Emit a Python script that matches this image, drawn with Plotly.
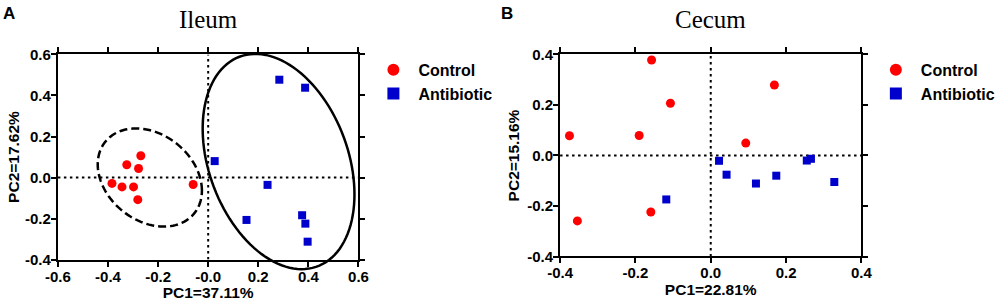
import numpy as np
import plotly.graph_objects as go

# ---------------- data ----------------
groups = ["Control", "Antibiotic"]

ileum_control_pc1 = [-0.384, -0.344, -0.298, -0.325, -0.269, -0.278, -0.281, -0.060]
ileum_control_pc2 = [-0.029, -0.046, -0.046, 0.062, 0.106, 0.044, -0.108, -0.034]
ileum_antibiotic_pc1 = [0.026, 0.284, 0.387, 0.237, 0.153, 0.375, 0.388, 0.397]
ileum_antibiotic_pc2 = [0.080, 0.477, 0.438, -0.036, -0.207, -0.184, -0.225, -0.313]

cecum_control_pc1 = [-0.375, -0.354, -0.190, -0.157, -0.107, -0.159, 0.093, 0.169]
cecum_control_pc2 = [0.078, -0.259, 0.079, 0.378, 0.207, -0.224, 0.049, 0.279]
cecum_antibiotic_pc1 = [-0.118, 0.022, 0.042, 0.120, 0.174, 0.255, 0.266, 0.328]
cecum_antibiotic_pc2 = [-0.174, -0.021, -0.076, -0.111, -0.080, -0.020, -0.013, -0.105]

# ellipse parameters (data units): centre x, centre y, half-width, half-height, tilt phase
ileum_ellipse_control = [-0.233, 0.0, 0.208, 0.2395, -0.27]
ileum_ellipse_antibiotic = [0.281, 0.078, 0.303, 0.525, -0.31]

ileum_x_ticks = [-0.6, -0.4, -0.2, 0.0, 0.2, 0.4, 0.6]
ileum_x_labels = ["-0.6", "-0.4", "-0.2", "-0.0", "0.2", "0.4", "0.6"]
ileum_y_ticks = [-0.4, -0.2, 0.0, 0.2, 0.4, 0.6]
ileum_y_labels = ["-0.4", "-0.2", "0.0", "0.2", "0.4", "0.6"]
cecum_x_ticks = [-0.4, -0.2, 0.0, 0.2, 0.4]
cecum_x_labels = ["-0.4", "-0.2", "0.0", "0.2", "0.4"]
cecum_y_ticks = [-0.4, -0.2, 0.0, 0.2, 0.4]
cecum_y_labels = ["-0.4", "-0.2", "0.0", "0.2", "0.4"]

ileum_x_range = [-0.6, 0.6]
ileum_y_range = [-0.4, 0.6]
cecum_x_range = [-0.4, 0.4]
cecum_y_range = [-0.4, 0.4]

# ---------------- style ----------------
RED = "#ff0000"
BLUE = "#0000cc"
SANS = "Arial, Liberation Sans, sans-serif"
SERIF = "Times New Roman, Liberation Serif, serif"

fig = go.Figure()

def add_pair(xc, yc, xa, ya, xaxis, yaxis, legend):
    fig.add_trace(go.Scatter(x=xc, y=yc, mode="markers", name=groups[0],
                             marker=dict(symbol="circle", size=9, color=RED),
                             xaxis=xaxis, yaxis=yaxis, legend=legend, cliponaxis=False))
    fig.add_trace(go.Scatter(x=xa, y=ya, mode="markers", name=groups[1],
                             marker=dict(symbol="square", size=8, color=BLUE),
                             xaxis=xaxis, yaxis=yaxis, legend=legend, cliponaxis=False))

add_pair(ileum_control_pc1, ileum_control_pc2, ileum_antibiotic_pc1, ileum_antibiotic_pc2,
         "x", "y", "legend")
add_pair(cecum_control_pc1, cecum_control_pc2, cecum_antibiotic_pc1, cecum_antibiotic_pc2,
         "x2", "y2", "legend2")

def ellipse_path(p, xr, yr, n=120):
    cx, cy, rx, ry, phi = p
    t = np.linspace(0, 2 * np.pi, n)
    x = cx + rx * np.cos(t)
    y = cy + ry * np.sin(t + phi)
    fx = (x - xr[0]) / (xr[1] - xr[0])
    fy = (y - yr[0]) / (yr[1] - yr[0])
    pts = ["{:.5f},{:.5f}".format(a, b) for a, b in zip(fx, fy)]
    return "M " + " L ".join(pts) + " Z"

shapes = [
    dict(type="path", xref="x domain", yref="y domain",
         path=ellipse_path(ileum_ellipse_control, ileum_x_range, ileum_y_range),
         line=dict(color="black", width=2.5, dash="8px,4px"), layer="below"),
    dict(type="path", xref="x domain", yref="y domain",
         path=ellipse_path(ileum_ellipse_antibiotic, ileum_x_range, ileum_y_range),
         line=dict(color="black", width=2.5), layer="below"),
]
# dotted zero lines
for xr_, yr_, xa, ya in [(ileum_x_range, ileum_y_range, "x", "y"),
                         (cecum_x_range, cecum_y_range, "x2", "y2")]:
    shapes.append(dict(type="line", xref=xa, yref=ya, x0=xr_[0], x1=xr_[1], y0=0, y1=0,
                       line=dict(color="black", width=2, dash="2.5px,3.5px"), layer="below"))
    shapes.append(dict(type="line", xref=xa, yref=ya, x0=0, x1=0, y0=yr_[0], y1=yr_[1],
                       line=dict(color="black", width=2, dash="2.5px,3.5px"), layer="below"))

axis_common = dict(showline=True, linewidth=2, linecolor="black", mirror="ticks",
                   ticks="outside", ticklen=5, tickwidth=2, tickcolor="black",
                   showgrid=False, zeroline=False, automargin=False, ticklabelstandoff=-3,
                   tickfont=dict(family=SANS, size=15, color="black", weight="bold"))
title_font = dict(family=SANS, size=15.5, color="black", weight="bold")

legend_common = dict(xanchor="left", yanchor="top", itemwidth=40,
                     font=dict(family=SANS, size=16, color="black", weight="bold"),
                     bgcolor="rgba(0,0,0,0)", tracegroupgap=0, itemsizing="constant")

fig.update_layout(
    width=1000, height=307,
    margin=dict(l=0, r=0, t=0, b=0),
    paper_bgcolor="white", plot_bgcolor="white",
    shapes=shapes,
    xaxis=dict(domain=[0.0583, 0.361], range=ileum_x_range, tickvals=ileum_x_ticks,
               ticktext=ileum_x_labels, anchor="y",
               title=dict(text="PC1=37.11%", font=title_font, standoff=0), **axis_common),
    yaxis=dict(domain=[0.1547, 0.8225], range=ileum_y_range, tickvals=ileum_y_ticks,
               ticktext=ileum_y_labels, anchor="x",
               title=dict(text="PC2=17.62%", font=title_font, standoff=2), **axis_common),
    xaxis2=dict(domain=[0.564, 0.8675], range=cecum_x_range, tickvals=cecum_x_ticks,
                ticktext=cecum_x_labels, anchor="y2",
                title=dict(text="PC1=22.81%", font=title_font, standoff=0), **axis_common),
    yaxis2=dict(domain=[0.1645, 0.8225], range=cecum_y_range, tickvals=cecum_y_ticks,
                ticktext=cecum_y_labels, anchor="x2",
                title=dict(text="PC2=15.16%", font=title_font, standoff=4), **axis_common),
    legend=dict(x=0.371, y=0.828, **legend_common),
    legend2=dict(x=0.877, y=0.828, **legend_common),
    annotations=[
        dict(text="Ileum", x=0.2097, y=1 - 19 / 307, xref="paper", yref="paper",
             xanchor="center", yanchor="middle", showarrow=False,
             font=dict(family=SERIF, size=25, color="black")),
        dict(text="Cecum", x=0.7157, y=1 - 19 / 307, xref="paper", yref="paper",
             xanchor="center", yanchor="middle", showarrow=False,
             font=dict(family=SERIF, size=25, color="black")),
        dict(text="A", x=0.0095, y=1 - 13 / 307, xref="paper", yref="paper",
             xanchor="center", yanchor="middle", showarrow=False,
             font=dict(family=SANS, size=17, color="black", weight="bold")),
        dict(text="B", x=0.511, y=1 - 13 / 307, xref="paper", yref="paper",
             xanchor="center", yanchor="middle", showarrow=False,
             font=dict(family=SANS, size=17, color="black", weight="bold")),
    ],
)

# the page's default 8px body margin would shift the 1000x307 figure out of the window
fig.write_html("out.html", config={"displayModeBar": False},
               post_script="document.body.style.margin='0px';")
